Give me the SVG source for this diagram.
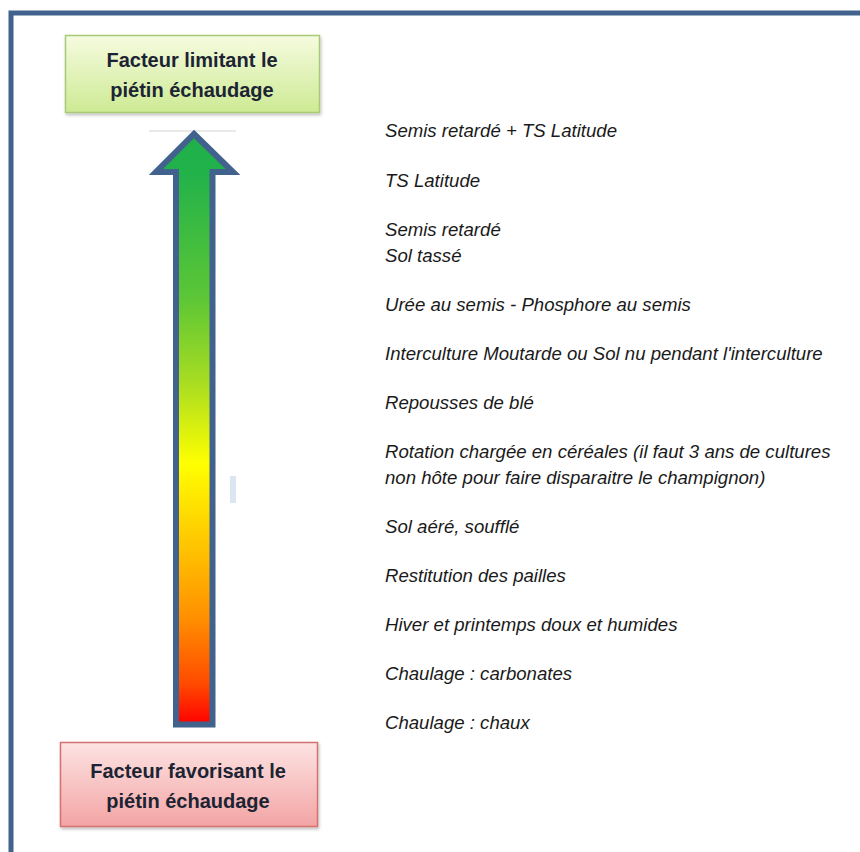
<svg xmlns="http://www.w3.org/2000/svg" width="860" height="852" viewBox="0 0 860 852">
  <style>
    .item { font-family: "Liberation Sans", Arial, sans-serif; font-size: 18.6px; font-style: italic; fill: #1a1a1a; }
    .boxtxt { font-family: "Liberation Sans", Arial, sans-serif; font-size: 20px; font-weight: bold; fill: #1c2433; text-anchor: middle; }
  </style>
  <defs>
    <linearGradient id="gGreen" x1="0" y1="0" x2="0" y2="1">
      <stop offset="0" stop-color="#f6fbdf"/>
      <stop offset="1" stop-color="#cdea94"/>
    </linearGradient>
    <linearGradient id="gRed" x1="0" y1="0" x2="0" y2="1">
      <stop offset="0" stop-color="#fde3e3"/>
      <stop offset="1" stop-color="#f3a4a4"/>
    </linearGradient>
    <linearGradient id="gArrow" gradientUnits="userSpaceOnUse" x1="0" y1="132" x2="0" y2="724">
      <stop offset="0" stop-color="#1fb04b"/>
      <stop offset="0.07" stop-color="#22b24a"/>
      <stop offset="0.28" stop-color="#5cc636"/>
      <stop offset="0.42" stop-color="#a6dc22"/>
      <stop offset="0.56" stop-color="#ffff00"/>
      <stop offset="0.71" stop-color="#ffc000"/>
      <stop offset="0.82" stop-color="#ff9000"/>
      <stop offset="0.93" stop-color="#ff4c00"/>
      <stop offset="1" stop-color="#ff0000"/>
    </linearGradient>
    <filter id="shadow" x="-10%" y="-10%" width="120%" height="130%">
      <feDropShadow dx="1" dy="2" stdDeviation="1.5" flood-color="#000" flood-opacity="0.25"/>
    </filter>
  </defs>

  <rect x="0" y="0" width="860" height="852" fill="#ffffff"/>

  <!-- frame -->
  <rect id="frame" x="11" y="13" width="900" height="900" fill="none" stroke="#41628c" stroke-width="5"/>

  <!-- connectors -->
  <g id="connectors">
    <line x1="149" y1="131" x2="236" y2="131" stroke="#e2e2e2" stroke-width="1.5"/>
    <path id="arrow" d="M194,134 L233,172 L212.5,172 L212.5,724.5 L176,724.5 L176,172 L156,172 Z" fill="url(#gArrow)" stroke="#41628c" stroke-width="6" stroke-linejoin="miter"/>
    <rect x="230" y="476" width="6" height="27" fill="#dce6f2"/>
  </g>

  <g id="node-limitant">
    <rect x="65.5" y="35.5" width="254" height="77" fill="url(#gGreen)" stroke="#a9c97a" stroke-width="1.5" filter="url(#shadow)"/>
    <text class="boxtxt" x="192" y="67">Facteur limitant le</text>
    <text class="boxtxt" x="192" y="97">piétin échaudage</text>
  </g>

  <g id="node-favorisant">
    <rect x="60.5" y="742.5" width="257" height="84" fill="url(#gRed)" stroke="#d47272" stroke-width="1.5" filter="url(#shadow)"/>
    <text class="boxtxt" x="188" y="778">Facteur favorisant le</text>
    <text class="boxtxt" x="188" y="808">piétin échaudage</text>
  </g>

  <g id="items">
    <text class="item" x="385" y="137">Semis retardé + TS Latitude</text>
    <text class="item" x="385" y="187">TS Latitude</text>
    <text class="item" x="385" y="236">Semis retardé</text>
    <text class="item" x="385" y="262">Sol tassé</text>
    <text class="item" x="385" y="311">Urée au semis - Phosphore au semis</text>
    <text class="item" x="385" y="360">Interculture Moutarde ou Sol nu pendant l'interculture</text>
    <text class="item" x="385" y="409">Repousses de blé</text>
    <text class="item" x="385" y="458">Rotation chargée en céréales (il faut 3 ans de cultures</text>
    <text class="item" x="385" y="484">non hôte pour faire disparaitre le champignon)</text>
    <text class="item" x="385" y="533">Sol aéré, soufflé</text>
    <text class="item" x="385" y="582">Restitution des pailles</text>
    <text class="item" x="385" y="631">Hiver et printemps doux et humides</text>
    <text class="item" x="385" y="680">Chaulage : carbonates</text>
    <text class="item" x="385" y="729">Chaulage : chaux</text>
  </g>
</svg>
